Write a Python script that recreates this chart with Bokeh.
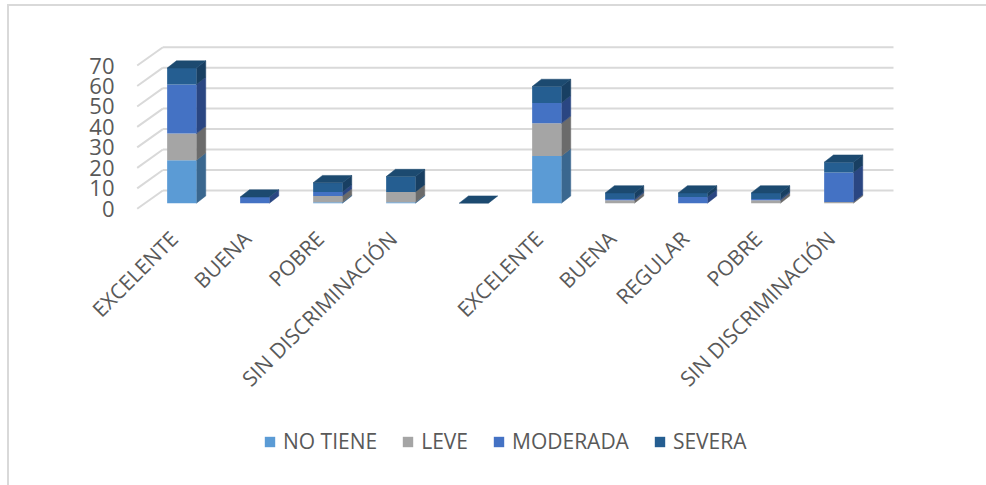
from bokeh.core.properties import value
from bokeh.embed import file_html
from bokeh.models import ColumnDataSource, FixedTicker, Legend, LegendItem
from bokeh.plotting import figure
from bokeh.resources import INLINE
import math

# Satisfaction groups along the horizontal axis (the blank one separates the two groups)
categories = ["EXCELENTE", "BUENA", "POBRE", "SIN DISCRIMINACIÓN", "",
              "EXCELENTE", "BUENA", "REGULAR", "POBRE", "SIN DISCRIMINACIÓN"]
value_ticks = [0, 10, 20, 30, 40, 50, 60, 70]

# Stacked series
no_tiene = [21, 0, 0.5, 0.5, 0, 23, 0, 0, 0, 0]
leve = [13, 0, 3, 5, 0, 16, 1.5, 0, 1.5, 0.6]
moderada = [24, 3, 2, 0, 0, 10, 0.5, 3, 0.5, 14.4]
severa = [8, 0, 4.5, 7.5, 0, 8, 3, 2, 3, 5]

series_names = ["NO TIENE", "LEVE", "MODERADA", "SEVERA"]
series_values = [no_tiene, leve, moderada, severa]
front_colors = ["#5B9BD5", "#A5A5A5", "#4472C4", "#255E91"]
side_colors = ["#3A678F", "#6B6B6B", "#2A4682", "#183F62"]
top_color = "#1C4A70"

TEXT = "#595959"
WALL = "#D9D9D9"

# Oblique projection: pixel scales and depth offsets of the 3D box
PX_X, PX_Y = 73.0, 2.047
LEFT, W, H = 70, 986, 485
ORIGIN_X, ORIGIN_Y = 173.4, 208.3

x_start = (LEFT - ORIGIN_X) / PX_X
x_end = (W - ORIGIN_X) / PX_X
y_start = (ORIGIN_Y - H) / PX_Y
y_end = ORIGIN_Y / PX_Y

WALL_DX, WALL_DY = 25.7 / PX_X, 18.3 / PX_Y
BAR_OFF_X, BAR_OFF_Y = 7.9 / PX_X, 5.6 / PX_Y
BAR_DX, BAR_DY = 9.3 / PX_X, 7.3 / PX_Y
BAR_W = 29.3 / PX_X
WALL_LEFT = (136.7 - ORIGIN_X) / PX_X
WALL_RIGHT = (893 - ORIGIN_X) / PX_X
LABEL_DX, LABEL_Y = 0.0, -26 / PX_Y

p = figure(width=W, height=H, output_backend="svg", toolbar_location=None,
           x_range=(x_start, x_end), y_range=(y_start, y_end),
           min_border_left=LEFT, min_border_right=0, min_border_top=0,
           min_border_bottom=0, outline_line_color=None,
           background_fill_color=None, border_fill_color=None)
p.grid.visible = False

# Thin frame line along the top and left of the page, painted behind the canvas
p.styles = {
    "background": (
        f"linear-gradient({WALL},{WALL}) 7px 4px/979px 2px no-repeat,"
        f"linear-gradient({WALL},{WALL}) 7px 4px/2px 481px no-repeat"
    )
}

# Back wall and floor-edge lines for each value tick
p.segment(x0=[WALL_LEFT + WALL_DX] * len(value_ticks), x1=[WALL_RIGHT] * len(value_ticks),
          y0=[v + WALL_DY for v in value_ticks], y1=[v + WALL_DY for v in value_ticks],
          line_color=WALL, line_width=2)
p.segment(x0=[WALL_LEFT] * len(value_ticks), x1=[WALL_LEFT + WALL_DX] * len(value_ticks),
          y0=value_ticks, y1=[v + WALL_DY for v in value_ticks],
          line_color=WALL, line_width=2)

# Stacked columns: front faces come from quads, side and top faces from patches
legend_items = []
base = [0.0] * len(categories)
for name, values, front, side in zip(series_names, series_values, front_colors, side_colors):
    lefts = [i + BAR_OFF_X - BAR_W / 2 for i in range(len(categories))]
    rights = [l + BAR_W for l in lefts]
    bottoms = [b + BAR_OFF_Y for b in base]
    tops = [b + v for b, v in zip(bottoms, values)]

    side_xs, side_ys = [], []
    for r, b, t in zip(rights, bottoms, tops):
        if t > b:
            side_xs.append([r, r + BAR_DX, r + BAR_DX, r])
            side_ys.append([b, b + BAR_DY, t + BAR_DY, t])
    p.patches(side_xs, side_ys, fill_color=side, line_color=side, line_width=0.5)

    source = ColumnDataSource(dict(left=lefts, right=rights, bottom=bottoms, top=tops))
    quad = p.quad(left="left", right="right", bottom="bottom", top="top", source=source,
                  fill_color=front, line_color=None)
    legend_items.append(LegendItem(label=name, renderers=[quad]))
    base = [b + v for b, v in zip(base, values)]

top_xs, top_ys = [], []
for i, total in enumerate(base):
    l = i + BAR_OFF_X - BAR_W / 2
    r = l + BAR_W
    t = total + BAR_OFF_Y
    top_xs.append([l, r, r + BAR_DX, l + BAR_DX])
    top_ys.append([t, t, t + BAR_DY, t + BAR_DY])
p.patches(top_xs, top_ys, fill_color=top_color, line_color=top_color, line_width=0.5)

# Value axis: the frame starts further left to hold the slanted labels,
# so the tick labels are pulled inwards next to the box
p.yaxis.ticker = FixedTicker(ticks=value_ticks)
p.yaxis.axis_line_color = None
p.yaxis.major_tick_line_color = None
p.yaxis.minor_tick_line_color = None
p.yaxis.major_tick_out = 0
p.yaxis.major_tick_in = 0
p.yaxis.major_label_text_color = TEXT
p.yaxis.major_label_text_font = "Open Sans"
p.yaxis.major_label_text_font_size = "22px"
p.yaxis.major_label_standoff = -44

# Slanted category labels, right-aligned under their columns
p.xaxis.visible = False
label_positions = [i for i, c in enumerate(categories) if c]
p.text(x=[i + LABEL_DX for i in label_positions], y=[LABEL_Y] * len(label_positions),
       text=[categories[i] for i in label_positions], angle=math.pi / 4,
       text_align="right", text_baseline="middle", text_color=TEXT,
       text_font=value("Open Sans"), text_font_size="21px")

legend = Legend(items=legend_items, orientation="horizontal", location=(193, 30),
                background_fill_alpha=0, border_line_color=None, margin=0, padding=0,
                glyph_width=13, glyph_height=13, label_standoff=7, spacing=24,
                label_text_color=TEXT, label_text_font="Open Sans",
                label_text_font_size="21px")
p.add_layout(legend, "center")

open("out.html", "w").write(file_html(p, INLINE))
